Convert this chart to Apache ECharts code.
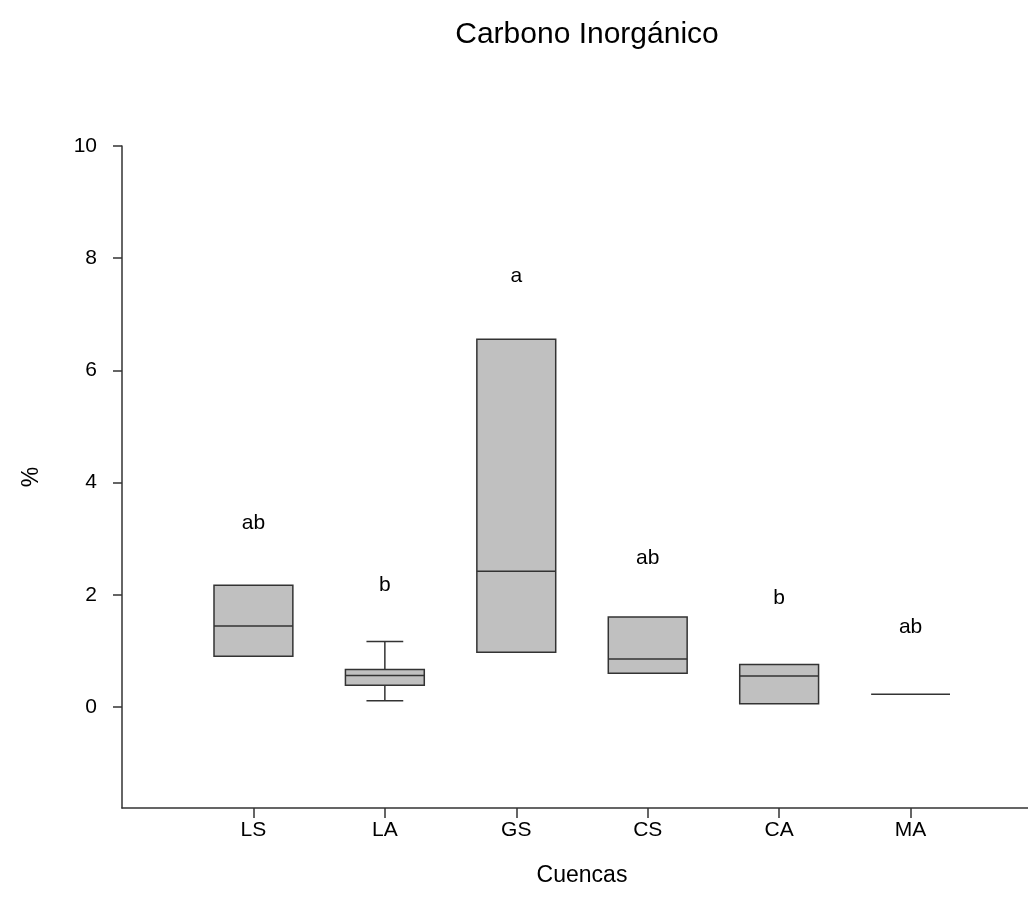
<!DOCTYPE html>
<html>
<head>
<meta charset="utf-8">
<script src="https://cdn.jsdelivr.net/npm/echarts@6/dist/echarts.min.js"></script>
<style>
html,body{margin:0;padding:0;background:#fff;}
#chart{width:1028px;height:914px;}
</style>
</head>
<body>
<div id="chart"></div>
<script>
// Data
var categories = ['LS', 'LA', 'GS', 'CS', 'CA', 'MA'];
var whiskerLow = [0.905, 0.11, 0.976, 0.60, 0.06, 0.227];
var q1 =         [0.905, 0.39, 0.976, 0.60, 0.06, 0.227];
var medians =    [1.445, 0.56, 2.42, 0.856, 0.553, 0.227];
var q3 =         [2.17, 0.67, 6.555, 1.605, 0.76, 0.227];
var whiskerHigh= [2.17, 1.17, 6.555, 1.605, 0.76, 0.227];
var letters = ['ab', 'b', 'a', 'ab', 'b', 'ab'];
var letterY = [3.28, 2.17, 7.68, 2.65, 1.94, 1.42];
var yTicks = [0, 2, 4, 6, 8, 10];

var FONT = '"Liberation Sans", Arial, sans-serif';
var boxData = categories.map(function (c, i) {
  return [i + 1, whiskerLow[i], q1[i], medians[i], q3[i], whiskerHigh[i]];
});
var letterData = categories.map(function (c, i) {
  return [i + 1, letterY[i], letters[i]];
});
var xTicks = categories.map(function (c, i) { return i + 1; });

var chart = echarts.init(document.getElementById('chart'), null, {renderer: 'canvas'});
var lineColor = '#333';
chart.setOption({
  backgroundColor: '#fff',
  animation: false,
  title: {
    text: 'Carbono Inorgánico',
    left: 582, top: 15, textAlign: 'center',
    textStyle: {fontFamily: FONT, fontSize: 30, fontWeight: 'normal', color: '#000'}
  },
  grid: {left: 122, top: 146, width: 920, height: 662, containLabel: false, outerBoundsMode: 'none'},
  xAxis: {
    type: 'value', min: 0, max: 7,
    name: 'Cuencas', nameLocation: 'middle', nameGap: 56, nameMoveOverlap: false,
    nameTextStyle: {fontFamily: FONT, fontSize: 23, color: '#000'},
    axisLine: {show: true, onZero: false, lineStyle: {color: lineColor, width: 1.5}},
    axisTick: {show: true, length: 10, customValues: xTicks, lineStyle: {color: lineColor, width: 1.5}},
    axisLabel: {
      customValues: xTicks, margin: 12,
      fontFamily: FONT, fontSize: 21, color: '#000',
      formatter: function (v) { return categories[Math.round(v) - 1] || ''; }
    },
    splitLine: {show: false}
  },
  yAxis: {
    type: 'value', min: -1.8, max: 10,
    name: '%', nameLocation: 'middle', nameGap: 79, nameRotate: 90, nameMoveOverlap: false,
    nameTextStyle: {fontFamily: FONT, fontSize: 23, color: '#000'},
    axisLine: {show: true, onZero: false, lineStyle: {color: lineColor, width: 1.5}},
    axisTick: {show: true, length: 9, customValues: yTicks, lineStyle: {color: lineColor, width: 1.5}},
    axisLabel: {customValues: yTicks, margin: 25, fontFamily: FONT, fontSize: 21, color: '#000'},
    splitLine: {show: false}
  },
  series: [
    {
      type: 'custom',
      data: boxData,
      renderItem: function (params, api) {
        var x = api.value(0);
        var lo = api.value(1), a = api.value(2), m = api.value(3), b = api.value(4), hi = api.value(5);
        var half = api.size([0.6, 0])[0] / 2;
        var cap = api.size([0.28, 0])[0] / 2;
        var pLo = api.coord([x, lo]), pA = api.coord([x, a]), pM = api.coord([x, m]),
            pB = api.coord([x, b]), pHi = api.coord([x, hi]);
        var cx = pM[0];
        var stroke = {stroke: lineColor, lineWidth: 1.5};
        var children = [];
        if (b > a) {
          children.push({type: 'rect', shape: {x: cx - half, y: pB[1], width: half * 2, height: pA[1] - pB[1]},
            style: {fill: '#c0c0c0', stroke: lineColor, lineWidth: 1.5}});
        }
        children.push({type: 'line', shape: {x1: cx - half, y1: pM[1], x2: cx + half, y2: pM[1]}, style: stroke});
        if (hi > b) {
          children.push({type: 'line', shape: {x1: cx, y1: pB[1], x2: cx, y2: pHi[1]}, style: stroke});
          children.push({type: 'line', shape: {x1: cx - cap, y1: pHi[1], x2: cx + cap, y2: pHi[1]}, style: stroke});
        }
        if (lo < a) {
          children.push({type: 'line', shape: {x1: cx, y1: pA[1], x2: cx, y2: pLo[1]}, style: stroke});
          children.push({type: 'line', shape: {x1: cx - cap, y1: pLo[1], x2: cx + cap, y2: pLo[1]}, style: stroke});
        }
        return {type: 'group', children: children};
      }
    },
    {
      type: 'custom',
      data: letterData,
      renderItem: function (params, api) {
        var p = api.coord([api.value(0), api.value(1)]);
        return {
          type: 'text',
          style: {
            text: letters[params.dataIndex], x: p[0], y: p[1],
            align: 'center', verticalAlign: 'middle',
            font: '21px ' + FONT, fill: '#000'
          }
        };
      }
    }
  ]
});
</script>
</body>
</html>
